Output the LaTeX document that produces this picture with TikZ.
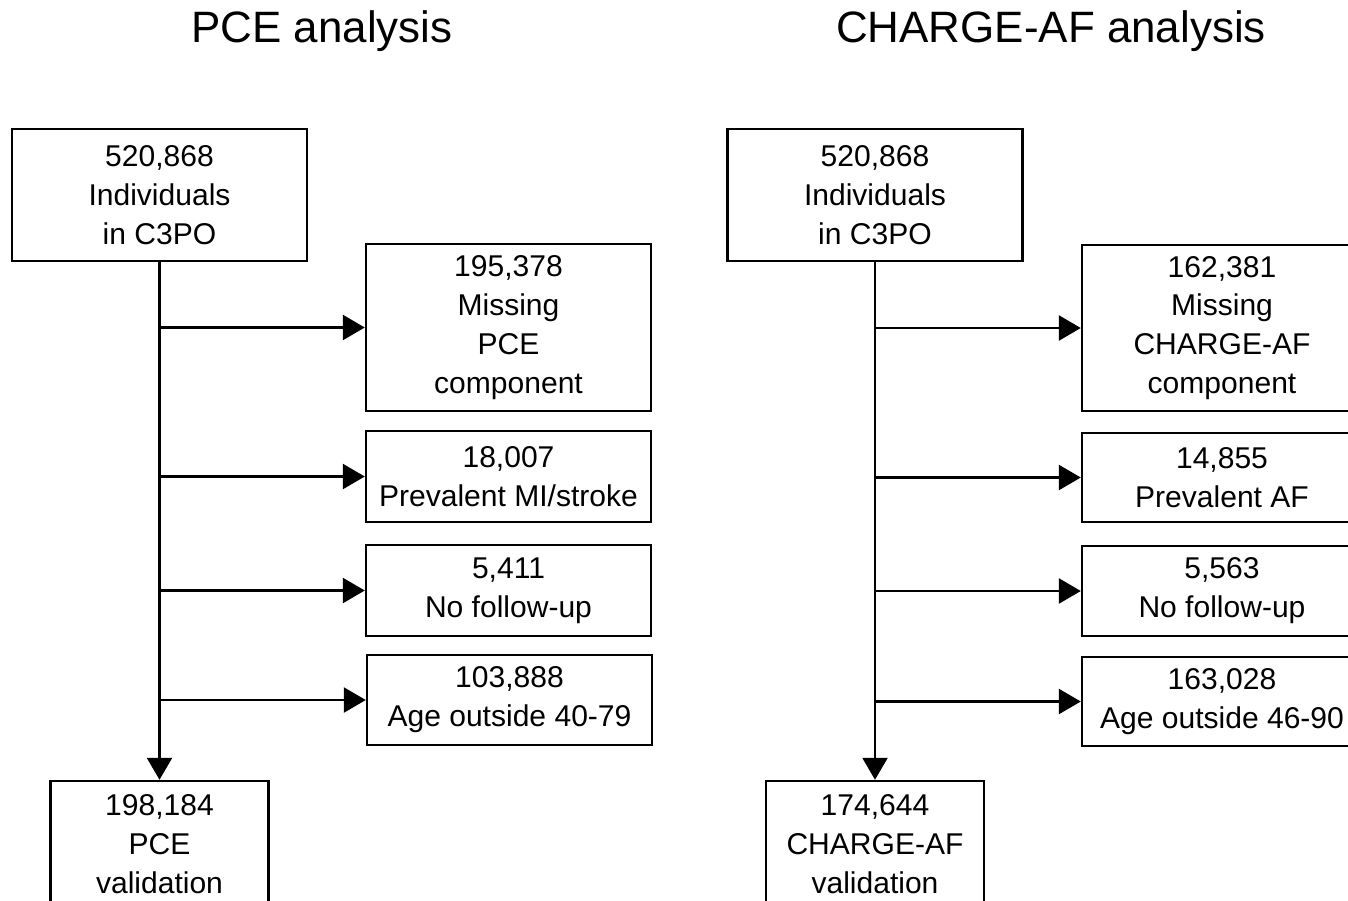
\documentclass[tikz,border=0pt]{standalone}
\usepackage{fontspec}
\setmainfont{Liberation Sans}
\usetikzlibrary{arrows.meta}
\begin{document}
\begin{tikzpicture}[x=0.02cm,y=-0.02cm,
  box/.style={draw=black,line width=1.4pt,align=center,inner sep=0pt,
    font=\fontsize{17.1}{22.1}\selectfont,text=black},
  title/.style={font=\fontsize{25}{30}\selectfont,anchor=base,inner sep=0pt},
  arr/.style={line width=1.4pt,-{Triangle[length=0.44cm,width=0.5cm]}},
  trunk/.style={line width=1.4pt}]
\useasboundingbox (0,0) rectangle (1348,900);
\fill[white] (0,0) rectangle (1348,900);
% titles
\node[title] (t1) at (322,42) {PCE analysis};
\node[title] (t2) at (1051,42) {CHARGE-AF analysis};
% left column
\node[box,minimum width=5.9cm,minimum height=2.64cm] (ltop) at (159.5,195) {520,868\\Individuals\\in C3PO};
\node[box,minimum width=5.7cm,minimum height=3.34cm] (l1) at (508.5,327.5) {195,378\\Missing\\PCE\\component};
\node[box,minimum width=5.7cm,minimum height=1.82cm] (l2) at (508.5,476.5) {18,007\\Prevalent MI/stroke};
\node[box,minimum width=5.7cm,minimum height=1.82cm] (l3) at (508.5,590.5) {5,411\\No follow-up};
\node[box,minimum width=5.7cm,minimum height=1.80cm] (l4) at (509.5,700) {103,888\\Age outside 40-79};
\node[box,minimum width=4.36cm,minimum height=2.52cm] (lbot) at (159.5,844) {198,184\\PCE\\validation};
\draw[arr] (ltop.south) -- (lbot.north);
\foreach \b in {l1,l2,l3,l4}{
  \draw[arr] (ltop.south |- \b.west) -- (\b.west);
}
% right column
\node[box,minimum width=5.9cm,minimum height=2.64cm] (rtop) at (875,195) {520,868\\Individuals\\in C3PO};
\node[box,minimum width=5.6cm,minimum height=3.32cm] (r1) at (1222,328) {162,381\\Missing\\CHARGE-AF\\component};
\node[box,minimum width=5.6cm,minimum height=1.78cm] (r2) at (1222,477.5) {14,855\\Prevalent AF};
\node[box,minimum width=5.6cm,minimum height=1.80cm] (r3) at (1222,591) {5,563\\No follow-up};
\node[box,minimum width=5.6cm,minimum height=1.78cm] (r4) at (1222,701.5) {163,028\\Age outside 46-90};
\node[box,minimum width=4.36cm,minimum height=2.52cm] (rbot) at (875,844) {174,644\\CHARGE-AF\\validation};
\draw[arr] (rtop.south) -- (rbot.north);
\foreach \b in {r1,r2,r3,r4}{
  \draw[arr] (rtop.south |- \b.west) -- (\b.west);
}
\end{tikzpicture}
\end{document}
